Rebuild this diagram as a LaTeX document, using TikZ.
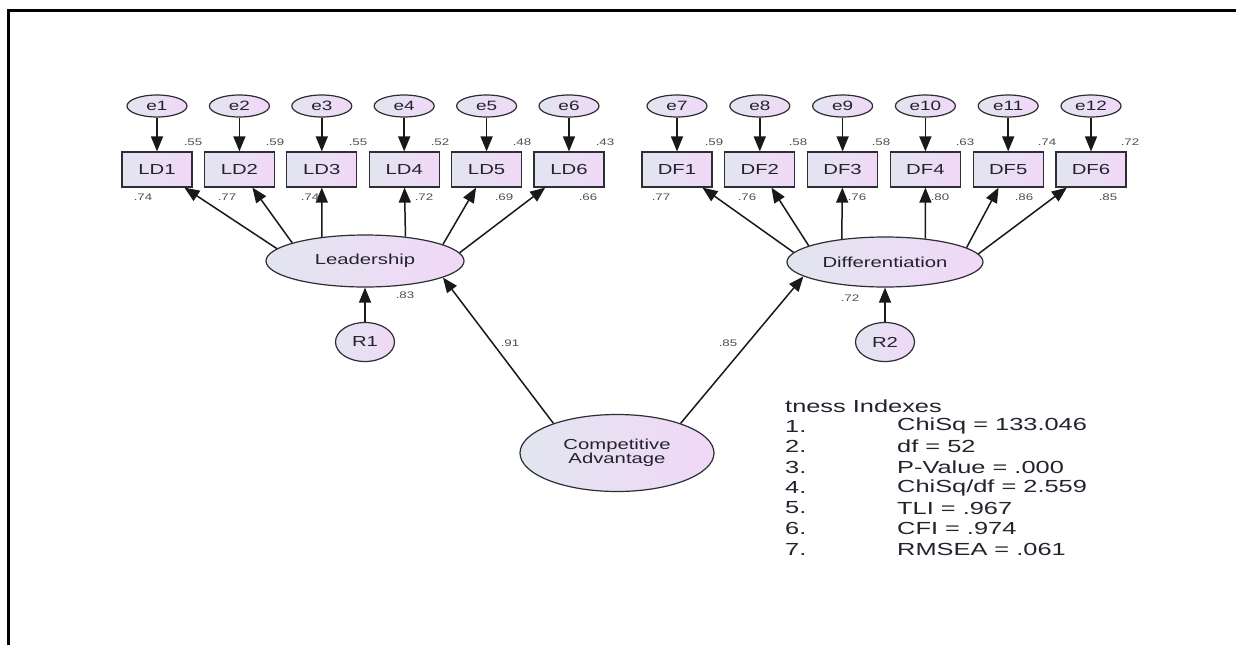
\documentclass[tikz,border=0pt]{standalone}
\usepackage{fontspec}
\setmainfont{Liberation Sans}
\newfontfamily\amos{Liberation Sans}[FakeStretch=1.4]
\newfontfamily\fitfont{Liberation Sans}[FakeStretch=1.45]
\usetikzlibrary{arrows.meta,shapes.geometric}
\definecolor{fillL}{RGB}{226,229,240}
\definecolor{fillR}{RGB}{241,216,247}
\definecolor{edge}{RGB}{45,45,52}
\definecolor{lbl}{RGB}{80,80,80}
\definecolor{txt}{RGB}{35,35,45}
\begin{document}
\begin{tikzpicture}[x=1pt,y=-1pt,
  base/.style={draw=edge,line width=1.2pt,left color=fillL,right color=fillR,inner sep=0pt,
    font=\amos\fontsize{14.5}{15}\selectfont,text=txt},
  errnode/.style={base,ellipse,minimum width=60pt,minimum height=22pt,
    font=\amos\fontsize{13.5}{14}\selectfont},
  obs/.style={base,rectangle,minimum width=70pt,minimum height=35pt},
  latent/.style={base,ellipse},
  res/.style={base,ellipse,minimum width=59pt,minimum height=39pt},
  path/.style={draw=black!90,line width=1.5pt,-{Triangle[length=15pt,width=12pt]}},
  coef/.style={font=\amos\fontsize{9.5}{10}\selectfont,text=lbl,inner sep=0pt},
  fit/.style={font=\fitfont\fontsize{17.5}{18}\selectfont,text=txt,inner sep=0pt,anchor=west},
]
\useasboundingbox (0,0) rectangle (1236,645);
\fill[white] (0,0) rectangle (1236,645);
% frame
\coordinate (fbl) at (8,645);
\coordinate (ftl) at (8,10);
\coordinate (ftr) at (1236,10);
\draw[line width=3pt,line join=miter] (fbl) -- (ftl) -- (ftr);

% Leadership indicators
\foreach \i [evaluate=\i as \x using {157+82.4*(\i-1)}] in {1,...,6}{
  \node[errnode] (e\i) at (\x,106) {e\i};
  \node[obs] (LD\i) at (\x,169.5) {LD\i};
  \draw[path] (e\i) -- (LD\i);
}
% Differentiation indicators
\foreach \i [evaluate=\i as \x using {677+82.8*(\i-1)}, evaluate=\i as \j using {int(\i+6)}] in {1,...,6}{
  \node[errnode] (e\j) at (\x,106) {e\j};
  \node[obs] (DF\i) at (\x,169.5) {DF\i};
  \draw[path] (e\j) -- (DF\i);
}

% latent variables
\node[latent,minimum width=198pt,minimum height=52pt] (Lead) at (365,261) {Leadership};
\node[latent,minimum width=196pt,minimum height=50pt] (Diff) at (885,262) {Differentiation};
\node[latent,minimum width=194pt,minimum height=77pt,align=center] (CA) at (617,453) {Competitive\\[-1pt]Advantage};
\node[res] (R1) at (365,342) {R1};
\node[res] (R2) at (885,342) {R2};

% loadings
\foreach \i/\a in {1/172,2/166,3/151,4/31,5/12,6/5}{
  \draw[path] (Lead.\a) -- (LD\i);
}
\foreach \i/\a in {1/174,2/168,3/152,4/30,5/10,6/5}{
  \draw[path] (Diff.\a) -- (DF\i);
}
\draw[path] (R1) -- (Lead);
\draw[path] (R2) -- (Diff);
\draw[path] (CA.155) -- (Lead.-12);
\draw[path] (CA.25) -- (Diff.190);

% coefficients
\foreach \x/\t in {193/.55,275/.59,358/.55,440/.52,522/.48,605/.43,
                   714/.59,798/.58,881/.58,965/.63,1047/.74,1130/.72}{
  \node[coef] at (\x,142) {\t};
}
\foreach \x/\t in {143/.74,227/.77,310/.74,424/.72,504/.69,588/.66,
                   661/.77,747/.76,857/.76,940/.80,1024/.86,1108/.85}{
  \node[coef] at (\x,197) {\t};
}
\node[coef] (c83) at (405,295) {.83};
\node[coef] (c72) at (850,298) {.72};
\node[coef] (c91) at (510,343) {.91};
\node[coef] (c85) at (728,343) {.85};

% fit indexes
\node[fit] (fhead) at (785,406) {tness Indexes};
\foreach \k/\t in {1/{ChiSq = 133.046},2/{df = 52},3/{P-Value = .000},4/{ChiSq/df = 2.559},
                   5/{TLI = .967},6/{CFI = .974},7/{RMSEA = .061}}{
  \node[fit] (fn\k) at (785,{426+20.5*(\k-1)}) {\k.};
  \node[fit] (fv\k) at (897,{426+20.5*(\k-1)}) {\t};
}
\end{tikzpicture}
\end{document}
